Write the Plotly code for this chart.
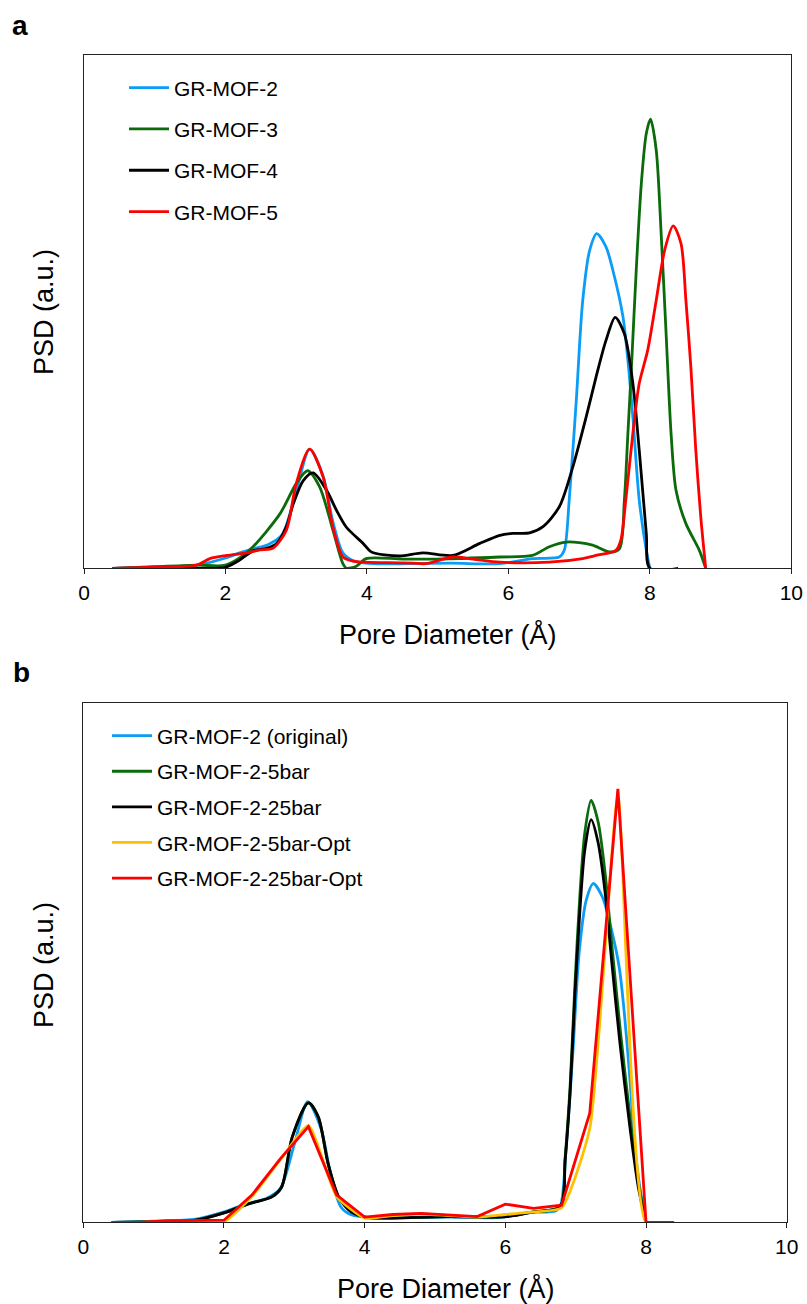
import plotly.graph_objects as go

# ---------------- Panel a data ----------------
a_mof2_x = [0.4, 1.0, 1.6, 2.0, 2.2, 2.4, 2.6, 2.8, 3.0, 3.19, 3.38, 3.52, 3.66, 3.8, 4.08, 4.6, 5.2, 5.88, 6.34,
            6.72, 6.79, 6.86, 6.96, 7.05, 7.15, 7.25, 7.38, 7.5, 7.62, 7.69, 7.76, 7.85, 7.95, 8.0]
a_mof2_y = [0, 0.2, 0.6, 2.0, 3.0, 3.8, 4.6, 6.5, 15, 23.2, 18, 9, 3.0, 1.5, 0.9, 0.9, 1.0, 0.9, 1.9,
            2.2, 3.5, 13.3, 32.7, 52, 62, 65.2, 62.6, 56.8, 49, 40.5, 29.5, 13.3, 3.5, 0]

a_mof3_x = [0.4, 1.0, 1.6, 2.0, 2.2, 2.39, 2.77, 3.0, 3.16, 3.33, 3.52, 3.66, 3.71, 3.85, 3.99, 4.5, 5.0, 5.88,
            6.34, 6.58, 6.82, 7.0, 7.19, 7.43, 7.57, 7.64, 7.69, 7.74, 7.81, 7.88, 7.95, 8.01, 8.09, 8.16,
            8.23, 8.3, 8.37, 8.51, 8.7, 8.79]
a_mof3_y = [0, 0.3, 0.6, 0.6, 2.0, 4.2, 10.6, 16.5, 19.0, 15.9, 7.4, 0.9, 0, 0.4, 1.9, 1.8, 1.8, 2.2,
            2.5, 4.2, 5.1, 5.0, 4.5, 3.2, 3.8, 13.3, 26.3, 39.2, 58.7, 75, 84.7, 87.5, 81.5, 65.2,
            45.7, 26.3, 15.2, 8.7, 3.5, 0]

a_mof4_x = [0.4, 1.0, 1.6, 2.0, 2.2, 2.39, 2.58, 2.72, 2.86, 2.96, 3.1, 3.24, 3.43, 3.57, 3.71, 3.95, 4.06,
            4.46, 4.79, 5.21, 5.59, 5.88, 6.06, 6.3, 6.49, 6.72, 6.91, 7.1, 7.24, 7.38, 7.51, 7.64, 7.76,
            7.85, 7.95, 8.0, 8.4]
a_mof4_y = [0, 0, 0, 0.2, 1.6, 3.4, 3.9, 4.8, 8.1, 12.6, 17.1, 18.6, 15.2, 11.3, 8.0, 4.8, 3.2,
            2.4, 3.0, 2.5, 4.8, 6.4, 6.8, 6.9, 8.1, 12.0, 19.7, 29.5, 37.3, 44.4, 48.9, 45.7, 36,
            23, 6.8, 0, 0]

a_mof5_x = [0.4, 1.0, 1.59, 1.78, 2.02, 2.3, 2.49, 2.67, 2.86, 3.0, 3.19, 3.38, 3.52, 3.66, 3.8, 3.95, 4.3,
            4.65, 4.83, 5.22, 5.5, 5.88, 6.58, 7.05, 7.24, 7.52, 7.59, 7.66, 7.76, 7.85, 7.97, 8.09, 8.21,
            8.33, 8.44, 8.51, 8.58, 8.65, 8.72, 8.79]
a_mof5_y = [0, 0.2, 0.6, 1.9, 2.5, 3.0, 3.6, 3.9, 7.4, 16.5, 23.2, 17.8, 8, 2.2, 1.4, 1.2, 1.1,
            1.0, 0.9, 2.2, 1.8, 1.2, 1.2, 1.9, 2.5, 3.5, 5.5, 13.3, 26.3, 36, 42.5, 52.2, 62,
            66.7, 63.3, 52.2, 39.2, 23, 10, 0]

# ---------------- Panel b data ----------------
b_5bar_x = [0.4, 1.0, 1.55, 2.0, 2.36, 2.68, 2.82, 2.97, 3.2, 3.34, 3.48, 3.63, 3.81, 4.0, 4.22, 5.17, 6.02,
            6.4, 6.78, 6.85, 6.92, 6.99, 7.06, 7.13, 7.22, 7.32, 7.42, 7.51, 7.63, 7.77, 7.89, 8.0]
b_5bar_y = [0, 0.1, 0.3, 1.8, 3.6, 4.9, 6.8, 16.4, 23.0, 20.3, 11.3, 4.9, 2.0, 1.0, 0.8, 1.1, 1.1,
            2.0, 3.0, 12.5, 26, 46, 63, 75, 81.2, 77, 67, 54, 37.5, 20.5, 7.8, 0]

b_25bar_x = b_5bar_x
b_25bar_y = [0, 0.1, 0.3, 1.8, 3.6, 4.9, 6.8, 16.4, 23.0, 20.3, 11.3, 4.9, 2.0, 1.0, 0.8, 1.1, 1.1,
             2.0, 3.0, 11.9, 24.8, 44, 60, 71.7, 77.5, 73, 63.3, 50.5, 34.4, 18.4, 6.8, 0]

b_opt_x = [0.4, 0.8, 1.2, 1.6, 2.0, 2.4, 2.8, 3.2, 3.6, 4.0, 4.4, 4.8, 5.2, 5.6, 6.0, 6.4, 6.8, 7.2, 7.6, 8.0, 8.4]
b_5bar_opt_y = [0, 0, 0.2, 0.2, 0.1, 5.0, 12.0, 18.6, 5.0, 0.8, 1.3, 1.6, 1.3, 1.0, 1.5, 2.0, 2.8, 18, 82, 0, 0]
b_25bar_opt_y = [0, 0, 0.3, 0.3, 0.4, 5.3, 12.2, 18.4, 5.3, 1.0, 1.5, 1.7, 1.4, 1.1, 3.5, 2.7, 3.3, 21, 83.4, 0, 0]

x_ticks = [0, 2, 4, 6, 8, 10]

BLUE = "#0A9CF7"
GREEN = "#0B6B0B"
BLACK = "#000000"
RED = "#FF0000"
GOLD = "#FFC000"

FONT = "Liberation Sans, Arial, sans-serif"

fig = go.Figure()

def add(x, y, name, color, xa, ya, legend, shape="spline", smoothing=0.8):
    fig.add_trace(go.Scatter(
        x=x, y=y, name=name, mode="lines",
        line=dict(color=color, width=2.8, shape=shape, smoothing=smoothing if shape == "spline" else None),
        xaxis=xa, yaxis=ya, legend=legend, legendgroup=name,
    ))

add(a_mof2_x, a_mof2_y, "GR-MOF-2", BLUE, "x", "y", "legend")
add(a_mof3_x, a_mof3_y, "GR-MOF-3", GREEN, "x", "y", "legend")
add(a_mof4_x, a_mof4_y, "GR-MOF-4", BLACK, "x", "y", "legend")
add(a_mof5_x, a_mof5_y, "GR-MOF-5", RED, "x", "y", "legend")

add(a_mof2_x, a_mof2_y, "GR-MOF-2 (original)", BLUE, "x2", "y2", "legend2")
add(b_5bar_x, b_5bar_y, "GR-MOF-2-5bar", GREEN, "x2", "y2", "legend2")
add(b_25bar_x, b_25bar_y, "GR-MOF-2-25bar", BLACK, "x2", "y2", "legend2")
add(b_opt_x, b_5bar_opt_y, "GR-MOF-2-5bar-Opt", GOLD, "x2", "y2", "legend2", smoothing=0.5)
add(b_opt_x, b_25bar_opt_y, "GR-MOF-2-25bar-Opt", RED, "x2", "y2", "legend2", shape="linear")

W, H = 807, 1304

def px(x):
    return x / W

def py(y):
    return 1 - y / H

xaxis_common = dict(
    range=[0, 10], tickvals=x_ticks, ticks="outside", ticklen=5, tickwidth=1.3, tickcolor="#222",
    showline=True, linecolor="#222", linewidth=1.3, mirror=True, showgrid=False, zeroline=False,
    automargin=False, tickfont=dict(size=21, color="#000", family=FONT),
)
yaxis_common = dict(
    range=[0, 100], showticklabels=False, ticks="", showline=True, linecolor="#222", linewidth=1.3,
    mirror=True, showgrid=False, zeroline=False, automargin=False,
)

legend_common = dict(
    font=dict(size=21, color="#000", family=FONT), bgcolor="rgba(0,0,0,0)", borderwidth=0,
    xanchor="left", yanchor="top", itemwidth=40, traceorder="grouped",
)

fig.update_layout(
    width=W, height=H, margin=dict(l=0, r=0, t=0, b=0, autoexpand=False),
    paper_bgcolor="white", plot_bgcolor="white",
    font=dict(family=FONT, color="#000"),
    xaxis=dict(domain=[px(84), px(791.3)], anchor="y", **xaxis_common),
    yaxis=dict(domain=[py(568.3), py(55)], anchor="x", **yaxis_common),
    xaxis2=dict(domain=[px(83.3), px(786.7)], anchor="y2", **xaxis_common),
    yaxis2=dict(domain=[py(1222.3), py(702.7)], anchor="x2", **yaxis_common),
    legend=dict(x=px(124), y=py(67.5), tracegroupgap=11, **legend_common),
    legend2=dict(x=px(107), y=py(715.5), tracegroupgap=5.3, **legend_common),
    showlegend=True,
)

ann = [
    dict(text="<b>a</b>", x=px(20), y=py(26)),
    dict(text="<b>b</b>", x=px(21), y=py(672)),
]
for a in ann:
    fig.add_annotation(xref="paper", yref="paper", xanchor="center", yanchor="middle", showarrow=False,
                       font=dict(size=28, family=FONT, color="#000"), **a)

titles = [
    dict(text="Pore Diameter (Å)", x=px(448), y=py(634), textangle=0),
    dict(text="Pore Diameter (Å)", x=px(446), y=py(1288), textangle=0),
    dict(text="PSD (a.u.)", x=px(44), y=py(312), textangle=-90),
    dict(text="PSD (a.u.)", x=px(44), y=py(965), textangle=-90),
]
for t in titles:
    fig.add_annotation(xref="paper", yref="paper", xanchor="center", yanchor="middle", showarrow=False,
                       font=dict(size=27, family=FONT, color="#000"), **t)

fig.write_html("out.html")
